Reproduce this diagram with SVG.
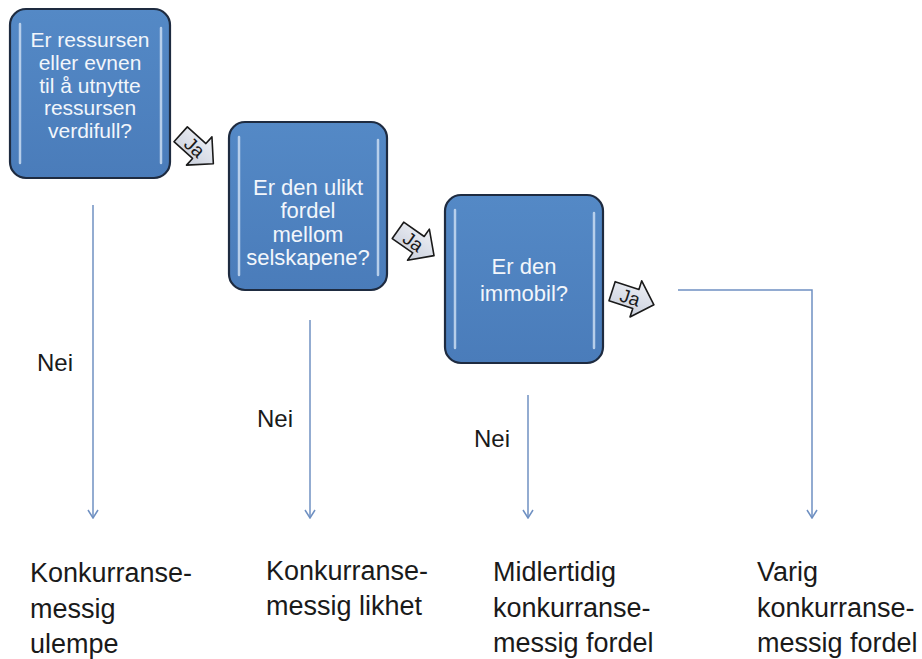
<svg xmlns="http://www.w3.org/2000/svg" width="922" height="659" viewBox="0 0 922 659">
<defs>
<style>
.box{fill:url(#boxg);stroke:#1e2b40;stroke-width:2.2}
.hl{fill:none;stroke:#c9dcf2;stroke-width:2.5;stroke-linecap:round;opacity:0.85}
.bt{font-family:"Liberation Sans",Arial,sans-serif;font-size:21px;fill:#f2f6fb;text-anchor:middle}
.bt2{font-size:22px}
.conn{fill:none;stroke:#6f90c2;stroke-width:1.5}
.lbl{font-family:"Liberation Sans",Arial,sans-serif;font-size:24px;fill:#1a1a1a}
.out{font-family:"Liberation Sans",Arial,sans-serif;font-size:27px;fill:#1a1a1a}
.ja{fill:url(#jag);stroke:#1a1a1a;stroke-width:1.6;stroke-linejoin:round}
.jat{font-family:"Liberation Sans",Arial,sans-serif;font-size:19px;fill:#1a1a1a;text-anchor:middle}
</style>
<linearGradient id="boxg" x1="0" y1="0" x2="0" y2="1">
<stop offset="0" stop-color="#5489c6"/>
<stop offset="1" stop-color="#4a7cba"/>
</linearGradient>
<linearGradient id="jag" x1="0" y1="0" x2="0" y2="1">
<stop offset="0" stop-color="#eef0f5"/>
<stop offset="1" stop-color="#c9cfdc"/>
</linearGradient>
<marker id="vh" viewBox="0 0 12 12" refX="11" refY="6" markerWidth="12" markerHeight="12" markerUnits="userSpaceOnUse" orient="auto">
<path d="M3,1 L11,6 L3,11" fill="none" stroke="#6f90c2" stroke-width="1.5"/>
</marker>
<path id="jaarrow" d="M-22,-10 L3,-10 L3,-19 L22,0 L3,19 L3,10 L-22,10 Z"/>
</defs>
<rect width="922" height="659" fill="#ffffff"/>

<g id="connectors">
<line class="conn" x1="93" y1="205" x2="93" y2="518" marker-end="url(#vh)"/>
<line class="conn" x1="310" y1="320" x2="310" y2="518" marker-end="url(#vh)"/>
<line class="conn" x1="528" y1="395" x2="528" y2="518" marker-end="url(#vh)"/>
<polyline class="conn" points="678,290 812,290 812,518" marker-end="url(#vh)"/>
</g>

<g id="node1">
<rect class="box" x="10" y="9" width="160" height="169" rx="16"/>
<line class="hl" x1="20" y1="24" x2="20" y2="163"/>
<line class="hl" x1="161" y1="28" x2="161" y2="163"/>
<text class="bt" x="90" y="47">Er ressursen</text>
<text class="bt" x="90" y="70">eller evnen</text>
<text class="bt" x="90" y="93">til å utnytte</text>
<text class="bt" x="90" y="115">ressursen</text>
<text class="bt" x="90" y="138">verdifull?</text>
</g>

<g id="node2">
<rect class="box" x="229" y="122" width="158" height="168" rx="16"/>
<line class="hl" x1="239" y1="137" x2="239" y2="275"/>
<line class="hl" x1="378" y1="140" x2="378" y2="275"/>
<text class="bt bt2" x="308" y="195">Er den ulikt</text>
<text class="bt bt2" x="308" y="218">fordel</text>
<text class="bt bt2" x="308" y="242">mellom</text>
<text class="bt bt2" x="308" y="265">selskapene?</text>
</g>

<g id="node3">
<rect class="box" x="445" y="195" width="158" height="168" rx="16"/>
<line class="hl" x1="455" y1="210" x2="455" y2="348"/>
<line class="hl" x1="594" y1="213" x2="594" y2="348"/>
<text class="bt bt2" x="524" y="274">Er den</text>
<text class="bt bt2" x="524" y="301">immobil?</text>
</g>

<g id="ja1" transform="translate(197,149) rotate(42)">
<use href="#jaarrow" class="ja"/>
<text class="jat" x="-3" y="7">Ja</text>
</g>
<g id="ja2" transform="translate(416,243) rotate(35)">
<use href="#jaarrow" class="ja"/>
<text class="jat" x="-3" y="7">Ja</text>
</g>
<g id="ja3" transform="translate(633,298) rotate(18)">
<use href="#jaarrow" class="ja"/>
<text class="jat" x="-3" y="7">Ja</text>
</g>

<g id="nei-labels">
<text class="lbl" x="37" y="371">Nei</text>
<text class="lbl" x="257" y="427">Nei</text>
<text class="lbl" x="474" y="447">Nei</text>
</g>

<g id="outcome1">
<text class="out" x="30" y="582">Konkurranse-</text>
<text class="out" x="30" y="618">messig</text>
<text class="out" x="30" y="653">ulempe</text>
</g>
<g id="outcome2">
<text class="out" x="266" y="580">Konkurranse-</text>
<text class="out" x="266" y="615">messig likhet</text>
</g>
<g id="outcome3">
<text class="out" x="493" y="581">Midlertidig</text>
<text class="out" x="493" y="617">konkurranse-</text>
<text class="out" x="493" y="652">messig fordel</text>
</g>
<g id="outcome4">
<text class="out" x="757" y="581">Varig</text>
<text class="out" x="757" y="617">konkurranse-</text>
<text class="out" x="757" y="652">messig fordel</text>
</g>
</svg>
